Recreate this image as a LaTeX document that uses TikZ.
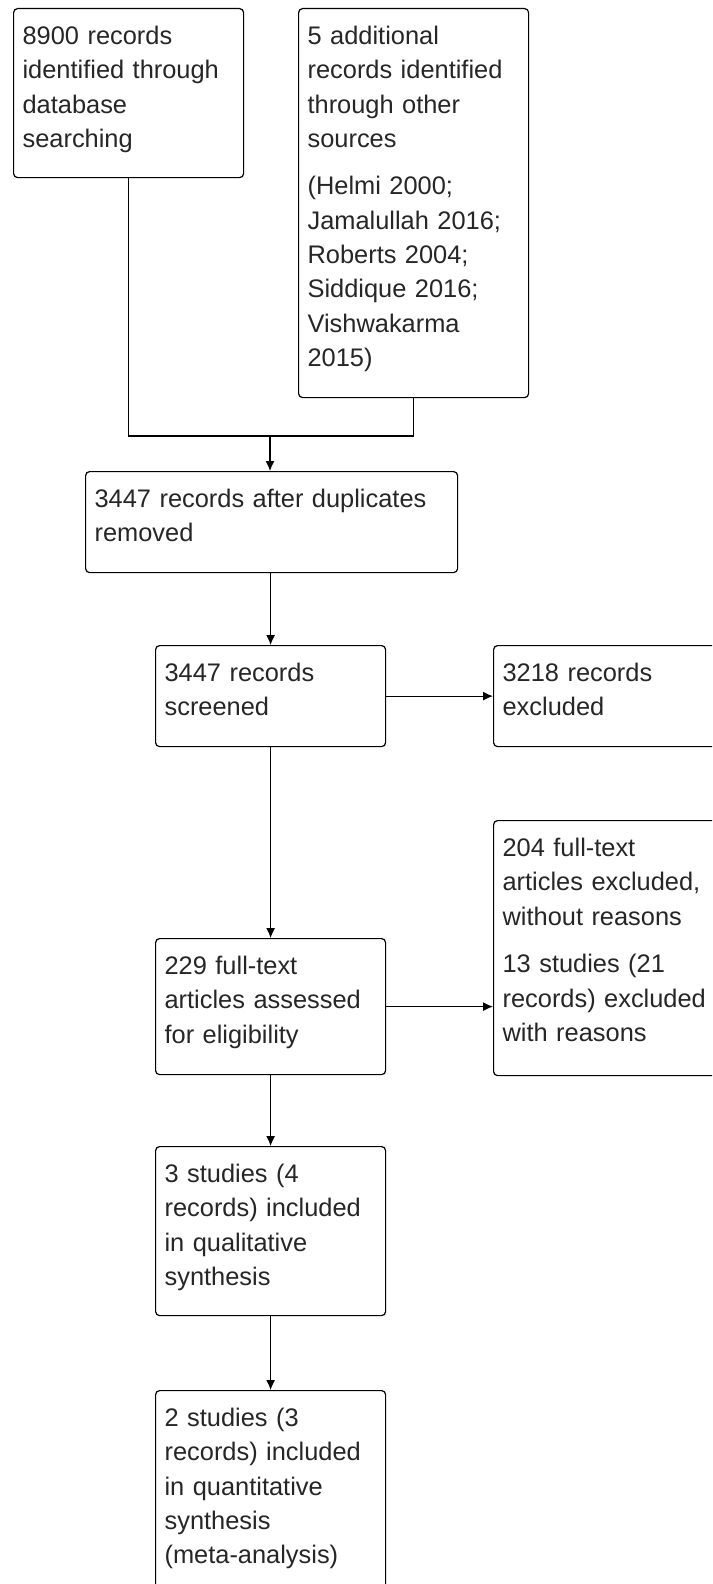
\documentclass[tikz,border=0pt]{standalone}
\usepackage{fontspec}
\setmainfont{Liberation Sans}
\usetikzlibrary{arrows.meta}

\tikzset{
  stage/.style={draw, line width=0.6pt, rounded corners=2pt, anchor=north west,
    align=left, text width=106pt, inner xsep=4.5pt, inner ysep=4.5pt,
    text height=13.5pt, font=\fontsize{12.7}{17.15}\selectfont, text=black!85},
  arr/.style={line width=0.6pt, -{Latex[length=5pt,width=4.5pt]}}
}

\begin{document}
\begin{tikzpicture}[x=0.5pt, y=-0.5pt]
        \useasboundingbox (0,0) rectangle (712,1584);
        \clip (0,0) rectangle (712,1584);
        % identification
        \node[stage, text depth=62pt] (search) at (13,8) {8900 records\\identified through\\database\\searching};
        \node[stage, text depth=172pt] (other) at (298,8) {5 additional\\records identified\\through other\\sources\\[6.6pt](Helmi 2000;\\Jamalullah 2016;\\Roberts 2004;\\Siddique 2016;\\Vishwakarma\\2015)};
        % screening
        \node[stage, text depth=28pt, text width=177pt] (dedup) at (85,471) {3447 records after duplicates\\removed};
        \node[stage, text depth=28pt] (screen) at (155,645) {3447 records\\screened};
        \node[stage, text depth=28pt] (excl) at (493,645) {3218 records\\excluded};
        % eligibility
        \node[stage, text depth=105pt] (ftexcl) at (493,820) {204 full-text\\articles excluded,\\without reasons\\[6.6pt]13 studies (21\\records) excluded\\with reasons};
        \node[stage, text depth=45.5pt] (fulltext) at (155,938) {229 full-text\\articles assessed\\for eligibility};
        % included
        \node[stage, text depth=62pt] (qual) at (155,1146) {3 studies (4\\records) included\\in qualitative\\synthesis};
        \node[stage, text depth=87.5pt] (quant) at (155,1390) {2 studies (3\\records) included\\in quantitative\\synthesis\\(meta-analysis)};

        \coordinate (join) at (270,436);
        \draw[line width=0.6pt] (search.south) |- (join) -| (other.south);
        \draw[arr] (join) -- (join |- dedup.north);
        \draw[arr] (screen.north |- dedup.south) -- (screen.north);
        \draw[arr] (screen.east) -- (excl.west);
        \draw[arr] (screen.south) -- (fulltext.north);
        \draw[arr] (fulltext.east) -- (fulltext.east -| ftexcl.west);
        \draw[arr] (fulltext.south) -- (qual.north);
        \draw[arr] (qual.south) -- (quant.north);
    \end{tikzpicture}
\end{document}
